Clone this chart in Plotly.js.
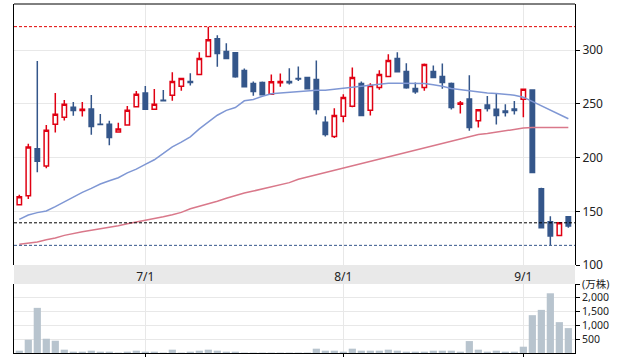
<!DOCTYPE html>
<html>
<head>
<meta charset="utf-8">
<script src="https://cdn.plot.ly/plotly-3.0.1.min.js"></script>
<style>html,body{margin:0;padding:0;background:#fff;}#chart{width:620px;height:357px;}</style>
</head>
<body>
<div id="chart"></div>
<script>
// Trading dates (2025-06-11 .. 2025-09-08)
const dates = [
 "2025-06-11","2025-06-12","2025-06-13","2025-06-16","2025-06-17","2025-06-18","2025-06-19","2025-06-20",
 "2025-06-23","2025-06-24","2025-06-25","2025-06-26","2025-06-27","2025-06-30",
 "2025-07-01","2025-07-02","2025-07-03","2025-07-04","2025-07-07","2025-07-08","2025-07-09","2025-07-10","2025-07-11",
 "2025-07-14","2025-07-15","2025-07-16","2025-07-17","2025-07-18","2025-07-22","2025-07-23","2025-07-24","2025-07-25",
 "2025-07-28","2025-07-29","2025-07-30","2025-07-31",
 "2025-08-01","2025-08-04","2025-08-05","2025-08-06","2025-08-07","2025-08-08","2025-08-12","2025-08-13","2025-08-14",
 "2025-08-15","2025-08-18","2025-08-19","2025-08-20","2025-08-21","2025-08-22","2025-08-25","2025-08-26","2025-08-27",
 "2025-08-28","2025-08-29",
 "2025-09-01","2025-09-02","2025-09-03","2025-09-04","2025-09-05","2025-09-08"
];
const openP = [156.2,164.5,208.3,192.3,231.2,237.7,246.9,243.8,245.4,231.2,231.2,223.8,230.3,247.5,
 260.2,245.1,253.4,258.0,266.4,271.0,277.5,294.1,310.8,298.8,297.8,281.2,269.1,270.1,259.0,269.8,271.0,273.8,
 274.7,272.8,233.0,219.8,238.6,247.8,269.1,244.1,265.4,275.6,292.3,280.3,264.5,265.4,280.3,275.6,269.1,249.7,
 254.6,234.3,249.1,245.1,243.5,245.4,254.3,263.0,171.0,140.3,127.5,145.0];
const highP = [165.5,213.0,290.1,230.3,260.2,253.7,251.9,251.9,258.3,240.7,234.3,232.4,248.2,262.0,
 266.7,263.9,263.0,279.6,274.0,278.7,298.1,322.0,313.9,306.5,298.0,283.0,271.0,271.0,277.5,278.4,283.3,284.9,
 274.9,290.4,238.6,246.0,259.0,283.9,271.0,269.4,281.5,296.3,298.1,288.0,270.1,287.7,285.8,287.7,270.1,252.8,
 276.8,244.7,257.4,259.3,249.7,252.8,263.8,263.2,171.9,145.3,140.0,145.6];
const lowP = [155.8,161.4,186.4,190.1,223.5,234.6,238.9,238.3,221.3,230.6,211.6,223.5,230.0,246.9,
 244.8,244.8,252.2,253.1,262.4,267.3,277.3,293.8,284.6,292.0,274.4,265.9,257.7,258.4,258.8,266.1,268.2,271.3,
 264.0,240.2,219.8,218.2,233.0,246.9,239.0,239.2,263.3,275.4,279.7,264.2,259.6,262.4,274.5,264.2,244.8,241.1,
 225.0,228.1,242.9,230.9,238.3,240.2,237.7,185.5,134.4,118.3,127.2,134.6];
const closeP = [163.6,209.9,196.6,225.6,240.4,249.7,243.8,245.1,229.0,230.9,218.8,226.6,244.2,259.0,
 245.1,249.7,253.1,271.0,273.8,270.1,292.3,309.9,296.9,292.3,275.3,266.1,261.7,258.6,270.7,271.0,269.8,273.2,
 264.2,244.8,221.6,239.2,255.9,274.7,239.2,267.3,277.5,290.4,279.9,265.1,261.4,286.7,274.7,270.1,246.6,251.0,
 228.1,244.5,245.7,239.2,242.0,243.8,263.6,186.1,134.6,127.1,139.3,136.4];
// Moving averages
const maShort = [142.5,146.6,148.8,150.3,154.4,159.0,163.7,167.7,171.4,175.4,178.5,181.3,185.8,189.3,
 193.7,198.0,203.9,210.1,214.4,219.4,226.8,233.3,239.5,244.0,246.7,252.9,254.1,257.2,259.4,260.3,260.9,261.6,
 262.5,262.8,262.8,263.7,264.7,265.6,266.2,267.1,267.8,269.3,269.3,269.3,269.0,269.0,267.8,266.5,264.4,263.2,
 262.2,261.2,260.3,259.7,259.1,258.2,256.3,252.3,247.9,243.9,240.2,236.2];
const maLong = [119.3,120.2,121.4,123.6,125.2,127.6,129.5,131.0,132.3,133.5,135.1,136.6,138.5,140.0,
 141.6,142.8,145.0,146.9,149.0,152.4,154.6,157.4,159.3,162.1,164.9,167.0,168.9,170.8,172.9,174.8,176.7,179.8,
 181.9,184.1,186.0,188.4,190.6,192.5,194.3,196.8,198.7,201.1,203.0,205.1,207.0,209.2,211.3,213.2,215.4,217.2,
 219.7,221.6,222.5,223.7,225.3,226.5,227.5,228.1,228.1,228.1,228.1,228.1];
// Volume (万株)
const volume = [83,476,1619,512,440,119,48,48,83,48,48,15,48,83,
 48,48,15,119,15,48,83,119,83,48,48,15,15,15,15,15,15,15,
 15,155,83,83,48,155,83,83,83,119,83,48,48,48,83,83,83,48,
 428,119,48,83,48,48,226,1357,1547,2142,1107,893];
const refLine = 139.3;
const monthTickVals = ["2025-07-01","2025-08-01","2025-09-01"];
const monthTickText = ["7/1","8/1","9/1"];
const priceTicks = [100,150,200,250,300];
const volTickVals = [500,1000,1500,2000,2475];
const volTickText = ["500","1,000","1,500","2,000","(万株)"];

const maxHigh = Math.max(...highP);
const minLow = Math.min(...lowP);

const UP = "#e00012", DOWN = "#34568a";
const traces = [
 {type:"scatter", mode:"lines", x:dates, y:maLong, line:{color:"#d9788a", width:1.5}, hoverinfo:"skip", xaxis:"x", yaxis:"y"},
 {type:"scatter", mode:"lines", x:dates, y:maShort, line:{color:"#7f97d4", width:1.5}, hoverinfo:"skip", xaxis:"x", yaxis:"y"},
 {type:"candlestick", x:dates, open:openP, high:highP, low:lowP, close:closeP, xaxis:"x", yaxis:"y",
  increasing:{line:{color:UP, width:1.5}, fillcolor:"#ffffff"},
  decreasing:{line:{color:DOWN, width:1.5}, fillcolor:DOWN}, hoverinfo:"skip"},
 {type:"bar", x:dates, y:volume, xaxis:"x2", yaxis:"y2", marker:{color:"#b8c4ce"}, hoverinfo:"skip"}
];
const H = 349, pBot = (353-265)/H, vTop = (353-284)/H;
const fam = "'Noto Sans', 'Noto Sans CJK JP', sans-serif";
const layout = {
 width:620, height:357, margin:{l:14, r:45, t:4, b:4},
 paper_bgcolor:"#fff", plot_bgcolor:"#fff", showlegend:false, bargap:0.2,
 font:{family:fam, size:11.5, color:"#222"},
 xaxis:{type:"category", range:[-0.589, 61.74], domain:[0,1], anchor:"y", tickvals:monthTickVals, ticktext:monthTickText,
   showgrid:true, gridcolor:"#e8e8e8", gridwidth:1, ticks:"", showline:false, zeroline:false,
   rangeslider:{visible:false}, tickfont:{family:fam, size:12, color:"#222"}, ticklabelstandoff:3},
 yaxis:{domain:[pBot,1], range:[100, 343.1], side:"right", tickvals:priceTicks, showgrid:true, gridcolor:"#e8e8e8",
   showline:true, mirror:true, linecolor:"#000", linewidth:1, ticks:"outside", ticklen:4, tickcolor:"#000", zeroline:false,
   tickfont:{family:fam, size:12, color:"#222"}},
 xaxis2:{type:"category", range:[-0.589, 61.74], domain:[0,1], anchor:"y2", tickvals:monthTickVals, ticktext:monthTickText,
   showticklabels:false, showgrid:true, gridcolor:"#e8e8e8", ticks:"outside", ticklen:4, tickcolor:"#000",
   showline:true, linecolor:"#000", linewidth:1, zeroline:false},
 yaxis2:{domain:[0, vTop], range:[0, 2475], side:"right", tickvals:volTickVals, ticktext:volTickText, showgrid:true,
   gridcolor:"#e8e8e8", showline:true, mirror:true, linecolor:"#000", linewidth:1, ticks:"outside", ticklen:4,
   tickcolor:"#000", zeroline:false, tickfont:{family:fam, size:10.5, color:"#222"}},
 shapes:[
  {type:"rect", xref:"paper", yref:"paper", x0:0, x1:1, y0:vTop, y1:pBot, fillcolor:"#e9e9e9", line:{width:0}, layer:"below"},
  {type:"line", xref:"paper", yref:"paper", x0:0, x1:1, y0:1, y1:1, line:{color:"#000", width:1}},
  {type:"line", xref:"paper", yref:"y", x0:0, x1:1, y0:maxHigh, y1:maxHigh, line:{color:"#e00000", width:1, dash:"3px,2px"}},
  {type:"line", xref:"paper", yref:"y", x0:0, x1:1, y0:refLine, y1:refLine, line:{color:"#000", width:1, dash:"3px,2px"}},
  {type:"line", xref:"paper", yref:"y", x0:0, x1:1, y0:minLow, y1:minLow, line:{color:"#34568a", width:1, dash:"3px,2px"}}
 ]
};
Plotly.newPlot("chart", traces, layout, {staticPlot:true, displayModeBar:false});
</script>
</body>
</html>
